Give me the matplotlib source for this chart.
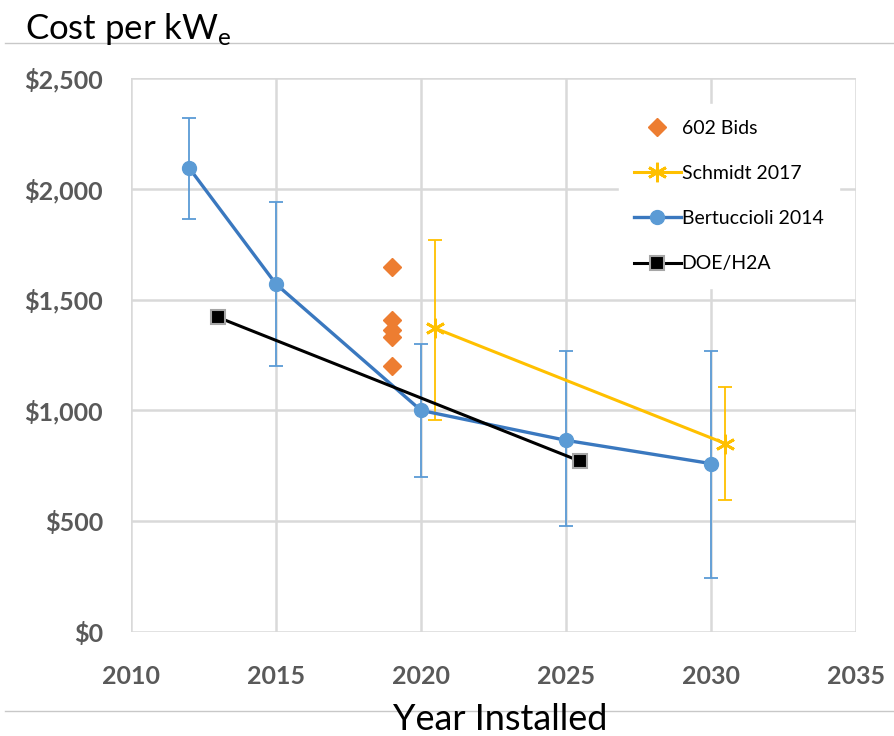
import matplotlib.pyplot as plt
from matplotlib.lines import Line2D
from matplotlib.ticker import FuncFormatter

plt.rcParams['font.family'] = ['Lato', 'DejaVu Sans']

# data
bids_x = [2019, 2019, 2019, 2019, 2019]
bids_y = [1645, 1410, 1365, 1330, 1200]

schmidt_x = [2020.5, 2030.5]
schmidt_y = [1370, 850]
schmidt_lo = [955, 595]
schmidt_hi = [1770, 1105]

bert_x = [2012, 2015, 2020, 2025, 2030]
bert_y = [2095, 1570, 1000, 865, 760]
bert_lo = [1865, 1200, 700, 480, 245]
bert_hi = [2320, 1940, 1300, 1270, 1270]

doe_x = [2013, 2025.5]
doe_y = [1420, 770]

xticks = [2010, 2015, 2020, 2025, 2030, 2035]
yticks = [0, 500, 1000, 1500, 2000, 2500]

BLUE_LINE = "#3A78BF"
BLUE = "#5B9BD5"
GOLD = "#FFC000"
ORANGE = "#ED7D31"
GRID = "#D9D9D9"
TICK = "#595959"

fig = plt.figure(figsize=(8.94, 7.36), dpi=100)
ax = fig.add_axes([131 / 894, 1 - 632 / 736, (856 - 131) / 894, (632 - 78) / 736])

# error bars
ax.errorbar(bert_x, bert_y,
            yerr=[[y - lo for y, lo in zip(bert_y, bert_lo)],
                  [hi - y for y, hi in zip(bert_y, bert_hi)]],
            fmt="none", ecolor=BLUE, elinewidth=1.3, capsize=5, capthick=1.3, zorder=3)
ax.errorbar(schmidt_x, schmidt_y,
            yerr=[[y - lo for y, lo in zip(schmidt_y, schmidt_lo)],
                  [hi - y for y, hi in zip(schmidt_y, schmidt_hi)]],
            fmt="none", ecolor=GOLD, elinewidth=1.3, capsize=5, capthick=1.3, zorder=3)

ax.plot(bids_x, bids_y, linestyle="none", marker="D", markersize=9,
        color=ORANGE, label="602 Bids", zorder=5)
ax.plot(schmidt_x, schmidt_y, color=GOLD, linewidth=2.2, marker=(6, 2, 0),
        markersize=14, markeredgewidth=2, label="Schmidt 2017", zorder=4)
ax.plot(bert_x, bert_y, color=BLUE_LINE, linewidth=2.4, marker="o", markersize=10,
        markerfacecolor=BLUE, markeredgecolor=BLUE, label="Bertuccioli 2014", zorder=4)
ax.plot(doe_x, doe_y, color="black", linewidth=2.2, marker="s", markersize=10,
        markerfacecolor="black", markeredgecolor="#A6A6A6", markeredgewidth=1.5,
        label="DOE/H2A", zorder=4)

ax.set_xlim(2010, 2035)
ax.set_ylim(0, 2500)
ax.set_xticks(xticks)
ax.set_yticks(yticks)
ax.yaxis.set_major_formatter(FuncFormatter(lambda v, p: f"${v:,.0f}"))
ax.grid(True, color=GRID, linewidth=1.8)
ax.set_axisbelow(True)
for s in ax.spines.values():
    s.set_visible(False)
ax.tick_params(length=0, labelsize=18, labelcolor=TICK)
ax.tick_params(axis="x", pad=24)
ax.tick_params(axis="y", pad=20)
for lab in ax.get_xticklabels() + ax.get_yticklabels():
    lab.set_fontweight("bold")

leg = ax.legend(loc="upper right", bbox_to_anchor=(0.99, 0.97), frameon=True,
                fontsize=14, handlelength=2.4, labelspacing=1.45, handletextpad=0.05,
                borderpad=0.8)
leg.get_frame().set_facecolor("white")
leg.get_frame().set_edgecolor("white")
leg.get_frame().set_alpha(1)

fig.text(25 / 894, 1 - 29 / 736, "Cost per kW$_\\mathregular{e}$", fontsize=25,
         va="center", ha="left")
fig.text(500 / 894, 1 - 719 / 736, "Year Installed", fontsize=26,
         va="center", ha="center")

fig.add_artist(Line2D([5 / 894, 1], [1 - 43 / 736] * 2, color="#C8C8C8", linewidth=1))
fig.add_artist(Line2D([5 / 894, 1], [1 - 711 / 736] * 2, color="#C8C8C8", linewidth=1))

fig.savefig("out.png", dpi=100)
